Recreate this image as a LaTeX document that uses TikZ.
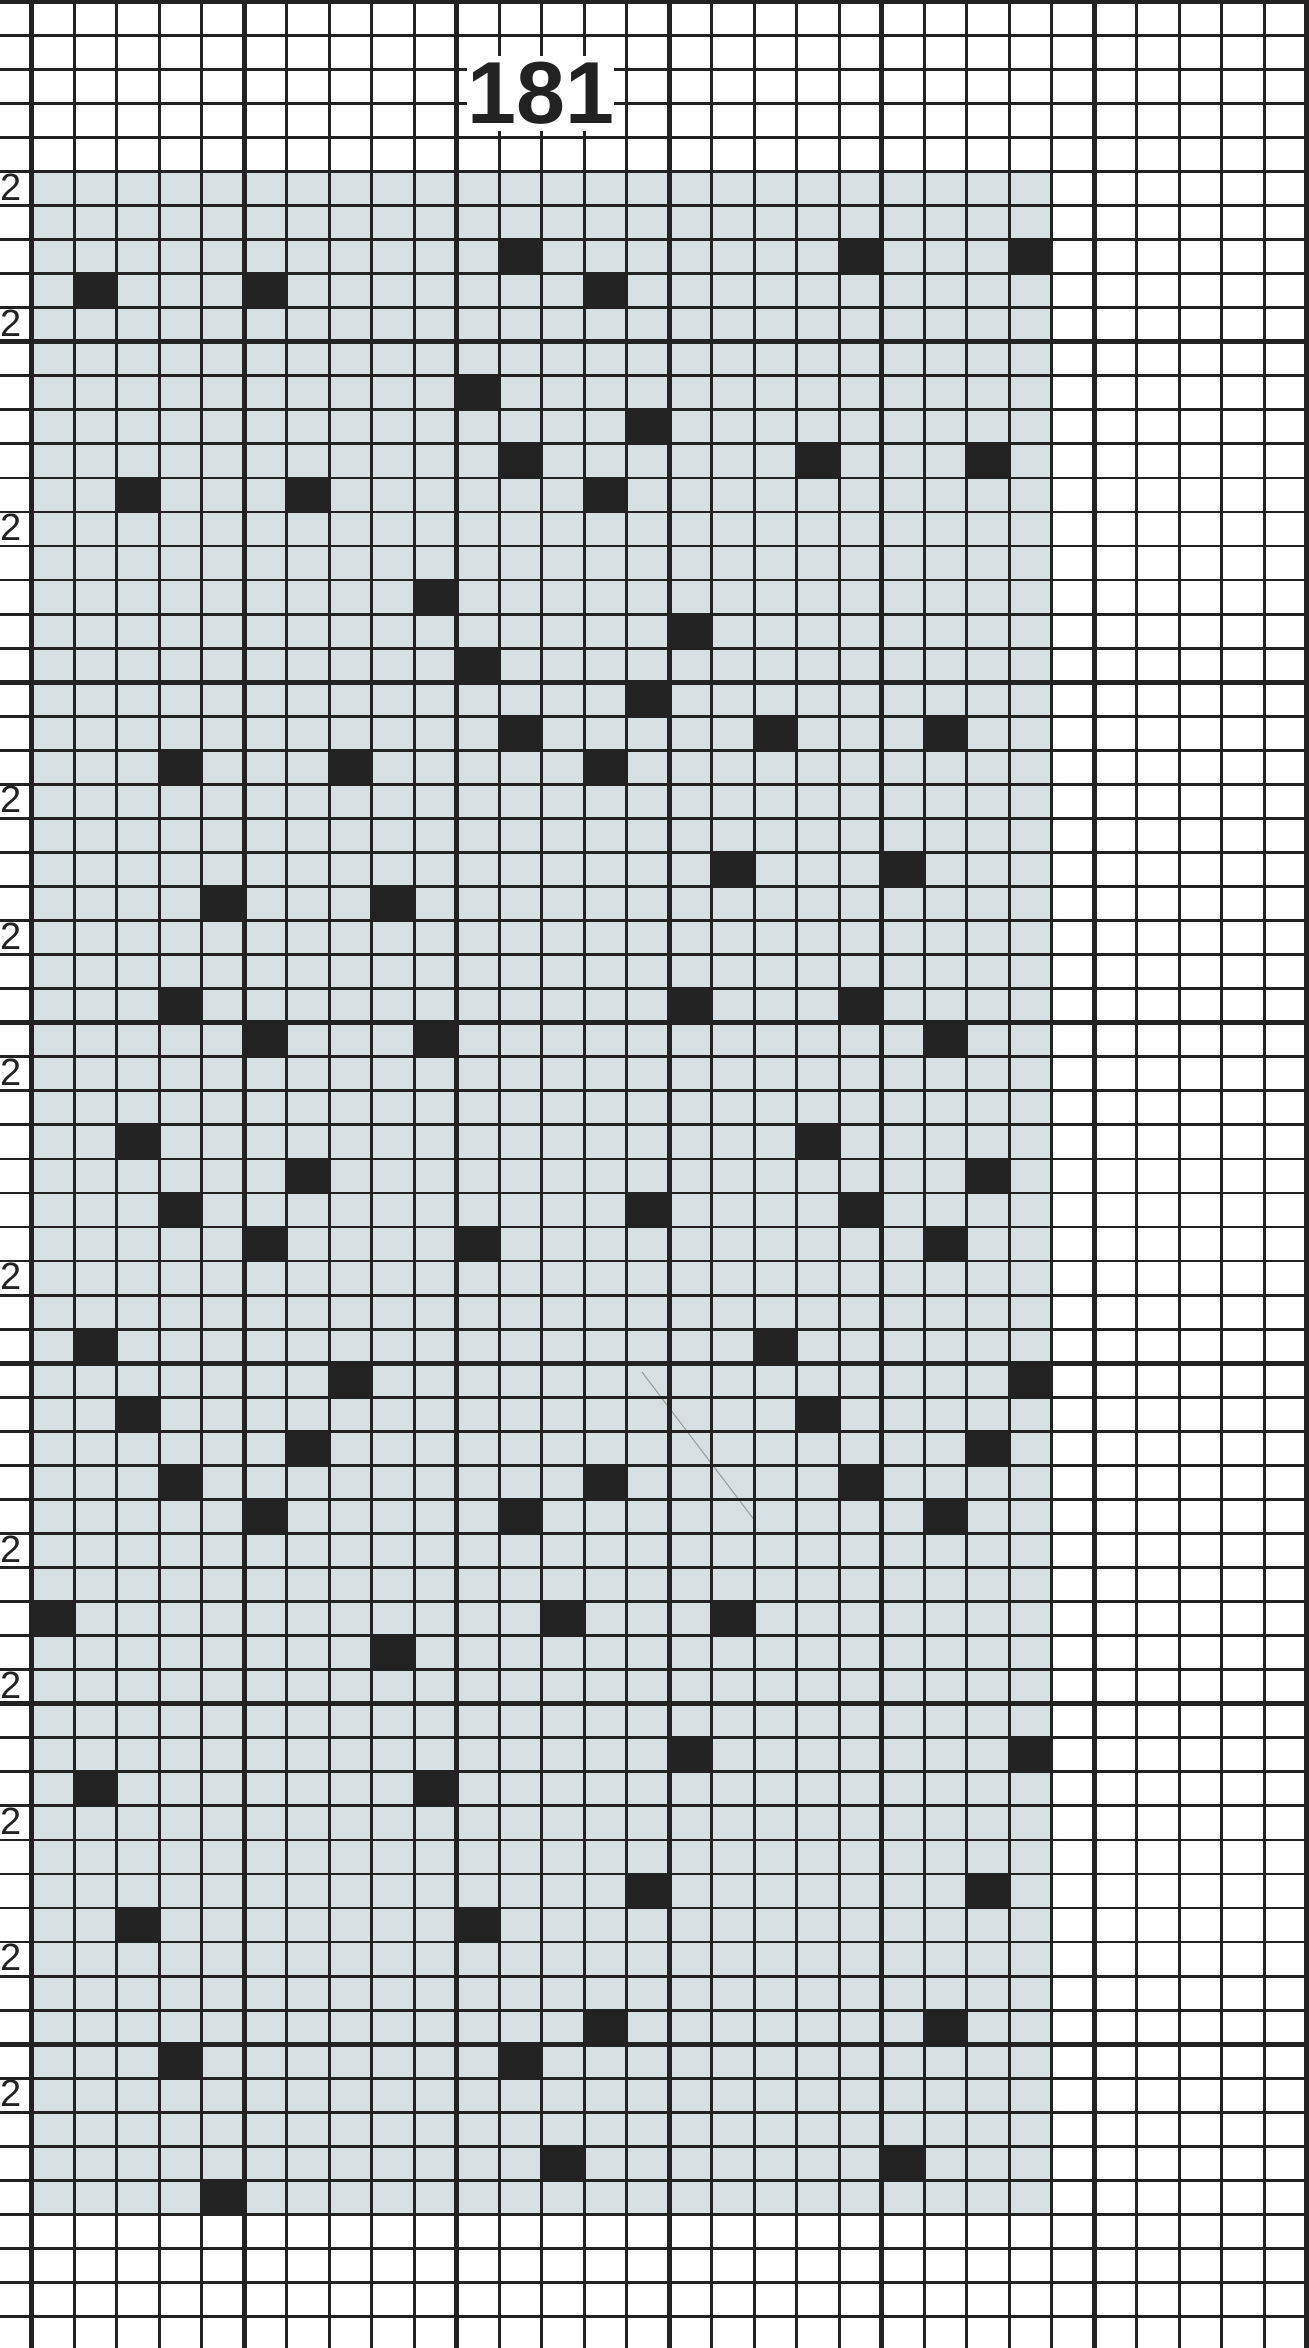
\documentclass[tikz,border=0pt]{standalone}
\usepackage{fontspec}
\setmainfont{Liberation Sans}
\definecolor{cardgray}{RGB}{214,223,226}
\definecolor{ink}{RGB}{34,34,34}
\tikzset{
  thinline/.style={draw=ink,line width=1.4pt},
  thickline/.style={draw=ink,line width=2.6pt},
  hole/.style={fill=ink},
  rowmark/.style={text=ink,inner sep=0pt,font=\fontsize{19}{19}\selectfont},
  cardno/.style={text=ink,fill=white,inner xsep=0pt,inner ysep=3pt,
    font=\bfseries\fontsize{44}{44}\selectfont}
}
\begin{document}
\begin{tikzpicture}[x=21.25pt,y=-17.025pt]
\useasboundingbox (-0.746,-0.035) rectangle (30.031,68.922);
% shaded part of the card
\fill[cardgray] (0,5) rectangle (24,65);
% punched holes, column/row
\foreach \c/\r in {11/7,19/7,23/7,1/8,5/8,13/8,
  10/11,14/12,11/13,18/13,22/13,2/14,6/14,13/14,
  9/17,15/18,10/19,14/20,11/21,17/21,21/21,3/22,7/22,13/22,
  16/25,20/25,4/26,8/26,
  3/29,15/29,19/29,5/30,9/30,21/30,
  2/33,18/33,6/34,22/34,3/35,14/35,19/35,5/36,10/36,21/36,
  1/39,17/39,7/40,23/40,2/41,18/41,6/42,22/42,
  3/43,13/43,19/43,5/44,11/44,21/44,
  0/47,12/47,16/47,8/48,15/51,23/51,1/52,9/52,
  14/55,22/55,2/56,10/56,13/59,21/59,3/60,11/60,
  12/63,20/63,4/64} {
  \fill[hole] (\c,\r) rectangle ++(1,1);
}
% scratch on the card
\draw[black!40,line width=0.5pt] (14.36,40.26) -- (17.0,44.6);
% grid
\foreach \j in {0,...,68} {
  \draw[thinline] (-0.8,\j) -- (30.1,\j);
}
\foreach \i in {0,...,30} {
  \draw[thinline] (\i,-0.1) -- (\i,69);
}
\foreach \j in {0,10,...,60} {
  \draw[thickline] (-0.8,\j) -- (30.1,\j);
}
\foreach \i in {0,5,...,30} {
  \draw[thickline] (\i,-0.1) -- (\i,69);
}
% card number and row marks
\node[cardno] (title) at (11.98,2.71) {181};
\foreach \r in {5,9,15,23,27,31,37,45,49,53,57,61} {
  \node[rowmark] (mark\r) at (-0.49,\r+0.45) {2};
}
\end{tikzpicture}
\end{document}
